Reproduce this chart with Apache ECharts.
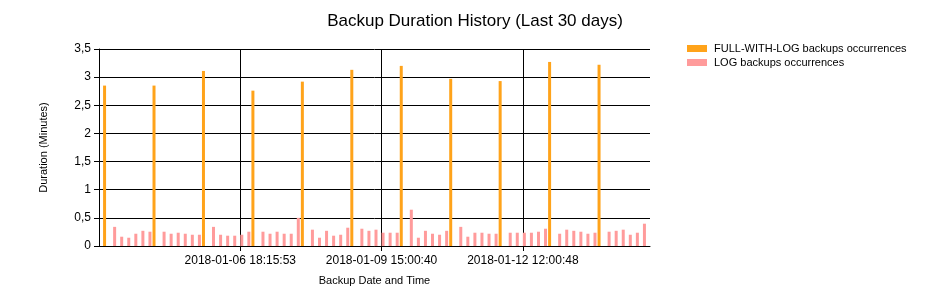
<!DOCTYPE html>
<html>
<head>
<meta charset="utf-8">
<script src="https://cdn.jsdelivr.net/npm/echarts@6/dist/echarts.min.js"></script>
<style>html,body{margin:0;padding:0;background:#fff;}#chart{width:950px;height:300px;}</style>
</head>
<body>
<div id="chart"></div>
<script>
// Point slots 0..78 along the x axis; data points occupy 1..77
const pointCount = 77;
const fullIndices = [1, 8, 15, 22, 29, 36, 43, 50, 57, 64, 71];
const fullValues = [2.85, 2.85, 3.11, 2.76, 2.92, 3.13, 3.20, 2.97, 2.93, 3.27, 3.22];
// LOG values for points 1..77 ('-' where a full backup occurred)
const logValues = [
  '-', 0.34, 0.165, 0.147, 0.218, 0.27, 0.254,
  '-', 0.254, 0.218, 0.236, 0.218, 0.20, 0.20,
  '-', 0.34, 0.20, 0.183, 0.183, 0.20, 0.254,
  '-', 0.254, 0.218, 0.254, 0.218, 0.218, 0.50,
  '-', 0.29, 0.147, 0.27, 0.183, 0.20, 0.325,
  '-', 0.307, 0.27, 0.29, 0.236, 0.236, 0.236,
  '-', 0.645, 0.147, 0.27, 0.218, 0.20, 0.27,
  '-', 0.34, 0.165, 0.236, 0.236, 0.218, 0.218,
  '-', 0.236, 0.236, 0.236, 0.236, 0.254, 0.307,
  '-', 0.218, 0.29, 0.27, 0.254, 0.218, 0.236,
  '-', 0.254, 0.27, 0.29, 0.20, 0.236, 0.396
];
const xTickIndices = [20, 40, 60];
const xTickLabels = ['2018-01-06 18:15:53', '2018-01-09 15:00:40', '2018-01-12 12:00:48'];

const categories = [];
for (let i = 0; i <= pointCount + 1; i++) categories.push(String(i));
const fullData = categories.map((c, i) => { const k = fullIndices.indexOf(i); return k >= 0 ? fullValues[k] : '-'; });
const logData = categories.map((c, i) => (i >= 1 && i <= pointCount) ? logValues[i - 1] : '-');
const isTick = (i) => xTickIndices.indexOf(i) >= 0;

const chart = echarts.init(document.getElementById('chart'), null, {renderer: 'canvas'});
const font = 'Liberation Sans, Arial, sans-serif';
chart.setOption({
  animation: false,
  backgroundColor: '#fff',
  title: {
    text: 'Backup Duration History (Last 30 days)',
    left: 'center',
    top: 8,
    textStyle: {fontFamily: font, fontSize: 17, fontWeight: 'normal', color: '#000'}
  },
  legend: {
    orient: 'vertical',
    left: 687,
    top: 43,
    padding: 0,
    itemWidth: 20,
    itemHeight: 7,
    itemGap: 3,
    icon: 'rect',
    textStyle: {fontFamily: font, fontSize: 11, color: '#000', padding: [0, 0, 0, 2]},
    data: ['FULL-WITH-LOG backups occurrences', 'LOG backups occurrences']
  },
  grid: {left: 99, right: 300, top: 49, bottom: 54},
  xAxis: {
    type: 'category',
    data: categories,
    boundaryGap: false,
    name: 'Backup Date and Time',
    nameLocation: 'middle',
    nameGap: 29,
    nameTextStyle: {fontFamily: font, fontSize: 11, color: '#000'},
    axisLine: {show: true, onZero: false, lineStyle: {color: '#000', width: 1}},
    axisTick: {show: true, length: 5, interval: (i) => isTick(i), lineStyle: {color: '#000'}},
    axisLabel: {
      fontFamily: font, fontSize: 12, color: '#000', margin: 9,
      interval: (i) => isTick(i),
      formatter: (v, i) => { const k = xTickIndices.indexOf(i); return k >= 0 ? xTickLabels[k] : ''; }
    },
    splitLine: {show: true, interval: (i) => isTick(i), lineStyle: {color: '#000', width: 1}}
  },
  yAxis: {
    type: 'value',
    min: 0,
    max: 3.5,
    interval: 0.5,
    name: 'Duration (Minutes)',
    nameLocation: 'middle',
    nameGap: 50,
    nameTextStyle: {fontFamily: font, fontSize: 11, color: '#000'},
    axisLine: {show: true, lineStyle: {color: '#000', width: 1}},
    axisTick: {show: true, length: 5, lineStyle: {color: '#000'}},
    axisLabel: {
      fontFamily: font, fontSize: 12, color: '#000', margin: 8,
      formatter: v => String(v).replace('.', ',')
    },
    splitLine: {show: true, lineStyle: {color: '#000', width: 1}}
  },
  series: [
    {
      name: 'FULL-WITH-LOG backups occurrences',
      type: 'bar',
      data: fullData,
      barWidth: 3,
      barGap: '0%',
      itemStyle: {color: '#FFA31A'}
    },
    {
      name: 'LOG backups occurrences',
      type: 'bar',
      data: logData,
      barWidth: 3,
      barGap: '0%',
      itemStyle: {color: '#FF9B9B'}
    }
  ]
});
</script>
</body>
</html>
